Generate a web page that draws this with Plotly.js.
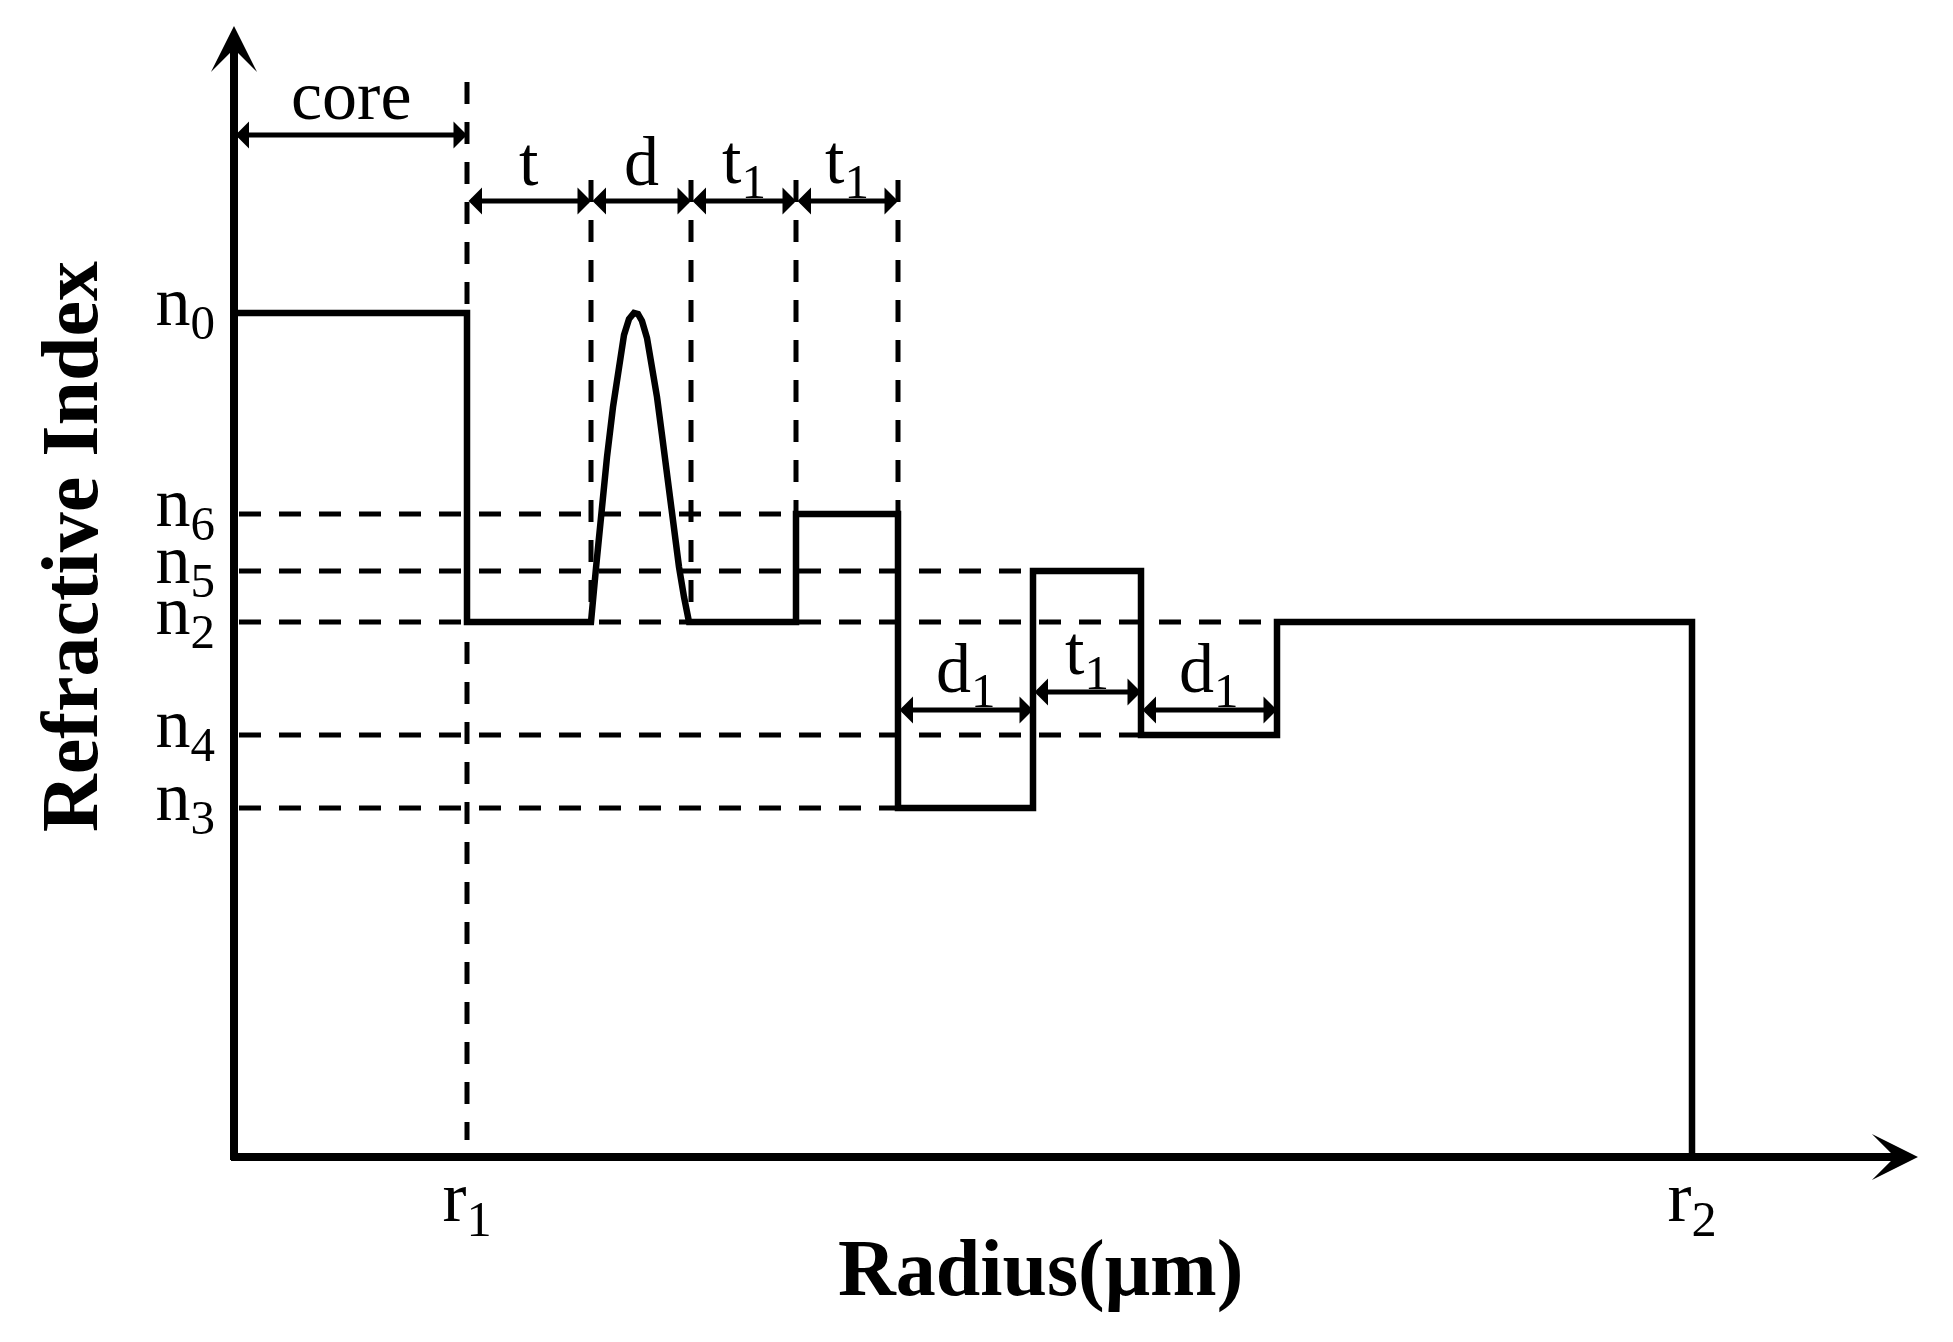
<!DOCTYPE html>
<html>
<head>
<meta charset="utf-8">
<script src="https://cdn.plot.ly/plotly-3.0.1.min.js"></script>
<style>
html,body{margin:0;padding:0;background:#fff;}
#chart{width:1953px;height:1342px;}
</style>
</head>
<body>
<div id="chart"></div>
<script>
// ---- values (arbitrary radius / index units) ----
const indexLabels = ['n<sub>0</sub>', 'n<sub>6</sub>', 'n<sub>5</sub>', 'n<sub>2</sub>', 'n<sub>4</sub>', 'n<sub>3</sub>'];
const indexValues = [84.4, 64.3, 58.6, 53.5, 42.2, 34.9];
const radiusLabels = ['r<sub>1</sub>', 'r<sub>2</sub>'];
const radiusValues = [23.3, 145.8];

// step layers of the profile
const stepStart = [0, 23.3, 45.7, 56.2, 66.4, 79.9, 90.7, 104.3];
const stepEnd   = [23.3, 35.7, 56.2, 66.4, 79.9, 90.7, 104.3, 145.8];
const stepIndex = [84.4, 53.5, 53.5, 64.3, 34.9, 58.6, 42.2, 53.5];

// graded (peaked) ring of width d
const gradedX = [35.7, 36.2, 36.7, 37.3, 37.9, 38.5, 39.0, 39.5, 40.0, 40.4, 40.8, 41.3, 41.8, 42.3, 42.8, 43.3, 43.9, 44.5, 45.0, 45.5];
const gradedY = [53.5, 58.9, 64.3, 70.0, 75.0, 79.3, 82.2, 83.8, 84.4, 84.3, 83.6, 81.9, 79.3, 76.0, 72.2, 68.0, 63.4, 59.0, 56.0, 53.5];

// dimension arrows
const dimLabels = ['core', 't', 'd', 't<sub>1</sub>', 't<sub>1</sub>', 'd<sub>1</sub>', 't<sub>1</sub>', 'd<sub>1</sub>'];
const dimFrom   = [0, 23.3, 35.7, 45.7, 56.2, 66.4, 79.9, 90.7];
const dimTo     = [23.3, 35.7, 45.7, 56.2, 66.4, 79.9, 90.7, 104.3];
const dimLevel  = [102.2, 95.6, 95.6, 95.6, 95.6, 44.7, 46.5, 44.7];

// dashed guide lines
const vGuideX    = [23.3, 35.7, 45.7, 56.2, 66.4];
const vGuideLow  = [1.7, 53.5, 53.5, 64.3, 64.3];
const vGuideHigh = [107.5, 97.7, 97.7, 97.7, 97.7];
const hGuideY    = [64.3, 58.6, 53.5, 42.2, 34.9];
const hGuideEnd  = [66.4, 79.9, 104.3, 90.7, 66.4];

const axisEndX = 168.4, axisEndY = 113.1;

// ---- build traces ----
const FONT = '"Liberation Serif", "Times New Roman", serif';
const traces = [];
const dashStyle = {color: '#000', width: 5, dash: '22px,18px'};

for (let i = 0; i < vGuideX.length; i++) {
  traces.push({x: [vGuideX[i], vGuideX[i]], y: [vGuideHigh[i], vGuideLow[i]], mode: 'lines',
    line: dashStyle, hoverinfo: 'skip', showlegend: false});
}
for (let i = 0; i < hGuideY.length; i++) {
  traces.push({x: [0.5, hGuideEnd[i]], y: [hGuideY[i], hGuideY[i]], mode: 'lines',
    line: dashStyle, hoverinfo: 'skip', showlegend: false});
}

const px = [], py = [];
for (let i = 0; i < stepStart.length; i++) {
  px.push(stepStart[i], stepEnd[i]);
  py.push(stepIndex[i], stepIndex[i]);
  if (i === 1) {
    for (let k = 0; k < gradedX.length; k++) { px.push(gradedX[k]); py.push(gradedY[k]); }
  }
}
px.push(stepEnd[stepEnd.length - 1]); py.push(0);
traces.push({x: px, y: py, mode: 'lines', line: {color: '#000', width: 6.5},
  hoverinfo: 'skip', showlegend: false});

// ---- annotations ----
const ann = [];
// axes with arrows
ann.push({x: 0, y: axisEndY, ax: 0, ay: -0.45, xref: 'x', yref: 'y', axref: 'x', ayref: 'y',
  showarrow: true, arrowhead: 3, arrowsize: 0.96, arrowwidth: 8, arrowcolor: '#000', text: ''});
ann.push({x: axisEndX, y: 0, ax: -0.45, ay: 0, xref: 'x', yref: 'y', axref: 'x', ayref: 'y',
  showarrow: true, arrowhead: 3, arrowsize: 0.96, arrowwidth: 8, arrowcolor: '#000', text: ''});

for (let i = 0; i < dimLabels.length; i++) {
  ann.push({x: dimTo[i], y: dimLevel[i], ax: dimFrom[i], ay: dimLevel[i],
    xref: 'x', yref: 'y', axref: 'x', ayref: 'y', showarrow: true,
    arrowside: 'end+start', arrowhead: 1, startarrowhead: 1,
    arrowsize: 0.9, startarrowsize: 0.9, arrowwidth: 5, arrowcolor: '#000', text: ''});
  const hasSub = dimLabels[i].indexOf('<sub>') >= 0;
  ann.push({x: (dimFrom[i] + dimTo[i]) / 2, y: dimLevel[i] + (hasSub ? 3.6 : 4.0),
    xref: 'x', yref: 'y', showarrow: false, text: dimLabels[i],
    xanchor: 'center', yanchor: 'middle', font: {family: FONT, size: 70, color: '#000'}});
}

// axis titles
ann.push({x: 0.4789, y: -0.0878, xref: 'paper', yref: 'paper', showarrow: false,
  text: '<b>Radius(μm)</b>', xanchor: 'center', yanchor: 'middle',
  font: {family: FONT, size: 80, color: '#000'}});
ann.push({x: -0.0904, y: 0.5395, xref: 'paper', yref: 'paper', showarrow: false,
  text: '<b>Refractive Index</b>', textangle: -90, xanchor: 'center', yanchor: 'middle',
  font: {family: FONT, size: 80, color: '#000'}});

const layout = {
  width: 1953, height: 1342,
  margin: {l: 224, r: 25, t: 16, b: 175},
  paper_bgcolor: '#fff', plot_bgcolor: '#fff',
  showlegend: false,
  xaxis: {range: [-1, 169.4], showgrid: false, zeroline: false, showline: false,
    tickvals: radiusValues, ticktext: radiusLabels, ticks: '', ticklabelstandoff: -19,
    tickfont: {family: FONT, size: 72, color: '#000'}},
  yaxis: {range: [-1, 114.1], showgrid: false, zeroline: false, showline: false,
    tickvals: indexValues, ticktext: indexLabels, ticks: '', ticklabelstandoff: 8,
    ticklabelshift: -13,
    tickfont: {family: FONT, size: 70, color: '#000'}},
  annotations: ann
};

Plotly.newPlot('chart', traces, layout, {staticPlot: true, displayModeBar: false});
</script>
</body>
</html>
